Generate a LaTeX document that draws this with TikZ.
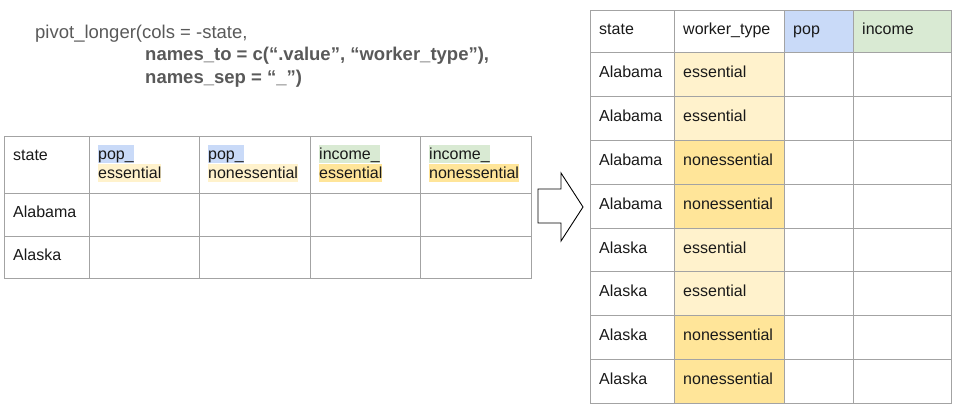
\documentclass[tikz,border=0pt]{standalone}
\usepackage{fontspec}
\setmainfont{Liberation Sans}
\usetikzlibrary{calc}
\definecolor{gridgray}{HTML}{A3A3A3}
\definecolor{hlblue}{HTML}{C9DAF8}
\definecolor{hlgreen}{HTML}{D9EAD3}
\definecolor{hlyellow}{HTML}{FFF2CC}
\definecolor{hlgold}{HTML}{FFE599}
\definecolor{codegray}{HTML}{595959}
\begin{document}
\begin{tikzpicture}[x=1pt,y=-1pt,
  cell/.style={draw=gridgray, line width=0.9pt, anchor=north west, inner sep=0pt, rectangle},
  txt/.style={anchor=base west, inner sep=0pt, font=\fontsize{16}{18.4}\selectfont, text=black!90},
  hl/.style={txt, text height=14.5pt, text depth=3.7pt},
  code/.style={anchor=base west, inner sep=0pt, font=\fontsize{18.5}{22}\selectfont, text=codegray},
  bigarrow/.style={draw=black, line width=0.9pt, fill=white, line join=miter}]
\useasboundingbox (0,0) rectangle (957,407);

% ---- code text
\node[code] (code1) at (35,38) {pivot\_longer(cols = -state,};
\node[code, font=\fontsize{18.5}{22}\selectfont\bfseries] (code2) at (145,60.5) {names\_to = c(“.value”, “worker\_type”),};
\node[code, font=\fontsize{18.5}{22}\selectfont\bfseries] (code3) at (145,83) {names\_sep = “\_”)};

% ---- left (wide) table
\foreach \c/\xa/\xb in {1/4/89,2/89/199,3/199/310,4/310/420,5/420/531}{
  \foreach \r/\ya/\yb in {1/136/193,2/193/236,3/236/278}{
    \pgfmathsetmacro\w{\xb-\xa}
    \pgfmathsetmacro\h{\yb-\ya}
    \node[cell, minimum width=\w pt, minimum height=\h pt] (L-\r-\c) at (\xa,\ya) {};
  }}
\node[txt] (Lt-state) at (13,160) {state};
\node[hl, fill=hlblue]   (Lt-2a) at (98,159.5) {pop\_};
\node[hl, fill=hlyellow] (Lt-2b) at (98,178) {essential};
\node[hl, fill=hlblue]   (Lt-3a) at (208,159.5) {pop\_};
\node[hl, fill=hlyellow] (Lt-3b) at (208,178) {nonessential};
\node[hl, fill=hlgreen]  (Lt-4a) at (319,159.5) {income\_};
\node[hl, fill=hlgold]   (Lt-4b) at (319,178) {essential};
\node[hl, fill=hlgreen]  (Lt-5a) at (429,159.5) {income\_};
\node[hl, fill=hlgold]   (Lt-5b) at (429,178) {nonessential};
\node[txt] (Lt-al) at (13,217.5) {Alabama};
\node[txt] (Lt-ak) at (13,260.5) {Alaska};

% ---- arrow
\draw[bigarrow] (538,189) -- (561,189) -- (561,173) -- (583,207) -- (561,241) -- (561,223) -- (538,223) -- cycle;

% ---- right (long) table header
\node[cell, minimum width=84pt, minimum height=42pt] (R-0-1) at (590,10) {};
\node[cell, minimum width=110pt, minimum height=42pt] (R-0-2) at (674,10) {};
\node[cell, fill=hlblue, minimum width=69pt, minimum height=42pt] (R-0-3) at (784,10) {};
\node[cell, fill=hlgreen, minimum width=98pt, minimum height=42pt] (R-0-4) at (853,10) {};
\node[txt] (Rh-1) at (599,34.7) {state};
\node[txt] (Rh-2) at (683,34.7) {worker\_type};
\node[txt] (Rh-3) at (793,34.7) {pop};
\node[txt] (Rh-4) at (862,34.7) {income};

% ---- right table body
\foreach \r/\st/\wt/\col in {1/Alabama/essential/hlyellow,2/Alabama/essential/hlyellow,
  3/Alabama/nonessential/hlgold,4/Alabama/nonessential/hlgold,
  5/Alaska/essential/hlyellow,6/Alaska/essential/hlyellow,
  7/Alaska/nonessential/hlgold,8/Alaska/nonessential/hlgold}{
  \pgfmathsetmacro\ya{52+43.875*(\r-1)}
  \node[cell, minimum width=84pt, minimum height=43.875pt] (R-\r-1) at (590,\ya) {};
  \node[cell, fill=\col, minimum width=110pt, minimum height=43.875pt] (R-\r-2) at (674,\ya) {};
  \node[cell, minimum width=69pt, minimum height=43.875pt] (R-\r-3) at (784,\ya) {};
  \node[cell, minimum width=98pt, minimum height=43.875pt] (R-\r-4) at (853,\ya) {};
  \node[txt] (Rt-\r-1) at ($(R-\r-1.north west)+(9,25.5)$) {\st};
  \node[txt] (Rt-\r-2) at ($(R-\r-2.north west)+(9,25.5)$) {\wt};
}
\end{tikzpicture}
\end{document}
